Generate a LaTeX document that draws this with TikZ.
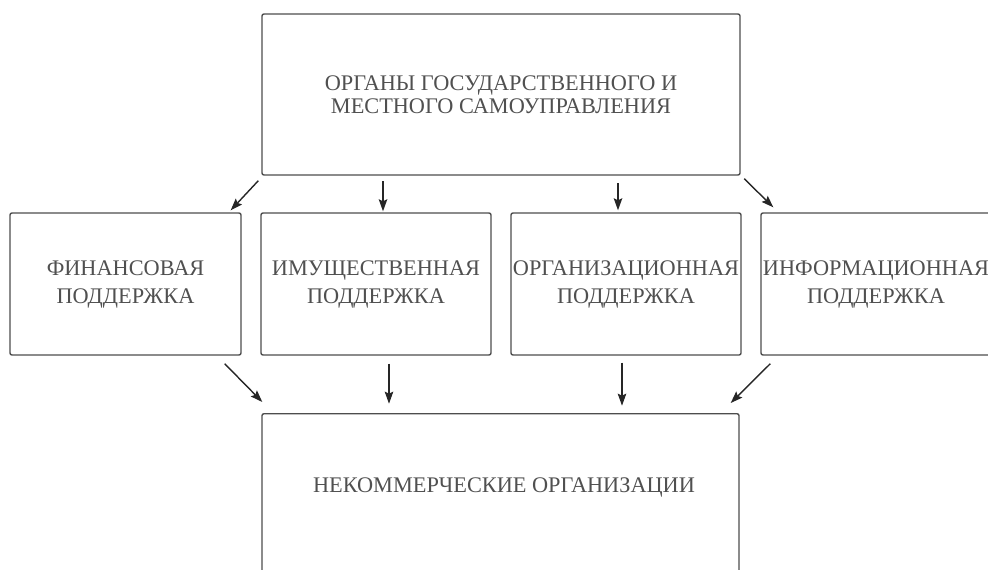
\documentclass[tikz,border=0pt]{standalone}
\usepackage{fontspec}
\setmainfont{Liberation Serif}
\usetikzlibrary{arrows.meta}
\definecolor{linegray}{HTML}{4D4D4D}
\definecolor{textgray}{HTML}{505050}
\begin{document}
\begin{tikzpicture}[x=1pt,y=-1pt,
  box/.style={draw=linegray, line width=1.4pt, rounded corners=2pt, inner sep=0pt,
    text=textgray, align=center, font=\fontsize{22.3}{28}\selectfont},
  lbl/.style={text=textgray, inner sep=0pt, font=\fontsize{22.3}{28}\selectfont},
  arr/.style={draw=black!85, line width=1.4pt, -{Stealth[length=12pt,width=8.5pt,inset=2pt]}}]
\useasboundingbox (0,0) rectangle (988,570);
\clip (0,0) rectangle (988,570);
\node[box, minimum width=478pt, minimum height=161pt, font=\fontsize{22.3}{22.5}\selectfont] (top) at (501,94.5) {ОРГАНЫ ГОСУДАРСТВЕННОГО И\\МЕСТНОГО САМОУПРАВЛЕНИЯ};
\node[box, minimum width=231pt, minimum height=142pt] (fin) at (125.5,284) {ФИНАНСОВАЯ\\ПОДДЕРЖКА};
\node[box, minimum width=230pt, minimum height=142pt] (imu) at (376,284) {ИМУЩЕСТВЕННАЯ\\ПОДДЕРЖКА};
\node[box, minimum width=230pt, minimum height=142pt] (org) at (626,284) {ОРГАНИЗАЦИОННАЯ\\ПОДДЕРЖКА};
\node[box, minimum width=230pt, minimum height=142pt] (inf) at (876,284) {ИНФОРМАЦИОННАЯ\\ПОДДЕРЖКА};
\node[box, minimum width=477pt, minimum height=180pt, anchor=north] (nko) at (500.5,413) {};
\node[lbl] (nkot) at (504,487) {НЕКОММЕРЧЕСКИЕ ОРГАНИЗАЦИИ};
\draw[arr] ([shift={(-3,5)}]top.south west) -- ([shift={(-11,-2)}]fin.north east);
\draw[arr] ([shift={(7,-31)}]imu.north) -- ([shift={(7,-1)}]imu.north);
\draw[arr] ([shift={(-8,-29)}]org.north) -- ([shift={(-8,-2)}]org.north);
\draw[arr] ([shift={(3.5,3)}]top.south east) -- ([shift={(13,-5)}]inf.north west);
\draw[arr] ([shift={(-17,8)}]fin.south east) -- ([shift={(1,-11)}]nko.north west);
\draw[arr] ([shift={(13,8)}]imu.south) -- ([shift={(13,48)}]imu.south);
\draw[arr] ([shift={(-4,7)}]org.south) -- ([shift={(-4,50)}]org.south);
\draw[arr] ([shift={(10,8)}]inf.south west) -- ([shift={(-9,-10)}]nko.north east);
\end{tikzpicture}
\end{document}
